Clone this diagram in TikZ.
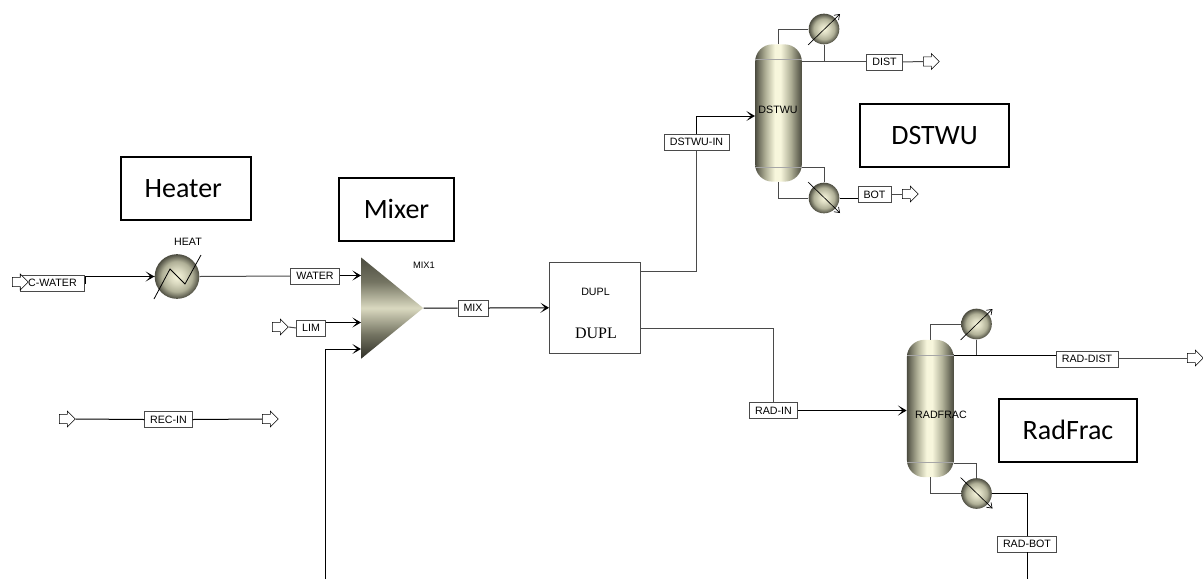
\documentclass[tikz,border=0pt]{standalone}
\usepackage{fontspec}
\setmainfont{Liberation Sans}
\newfontfamily\boxfont{Carlito}
\newfontfamily\duplfont{Liberation Serif}
\usepackage{xcolor}
\usepackage{tikz}
\usetikzlibrary{arrows.meta,positioning,shapes.geometric,shapes.arrows}
\definecolor{shadedark}{HTML}{2F2F27}
\definecolor{shadeedge}{HTML}{4C4C40}
\definecolor{shadelow}{HTML}{747462}
\definecolor{shademid}{HTML}{B0B097}
\definecolor{shadelight}{HTML}{F7F6DC}
\definecolor{shadecone}{HTML}{DAD9C0}
\definecolor{flowgray}{HTML}{4A4A4A}
\pgfdeclarehorizontalshading{towershade}{100bp}{
  color(0bp)=(shadeedge); color(25bp)=(shadeedge); color(29bp)=(shadelow); color(36bp)=(shademid);
  color(46bp)=(shadelight); color(52bp)=(shadelight); color(63bp)=(shademid); color(70bp)=(shadelow);
  color(75bp)=(shadeedge); color(100bp)=(shadeedge)}
\pgfdeclareverticalshading{coneshade}{100bp}{
  color(0bp)=(shadedark); color(25bp)=(shadedark); color(37bp)=(shadelow); color(50bp)=(shadecone);
  color(63bp)=(shadelow); color(75bp)=(shadeedge); color(100bp)=(shadeedge)}
\pgfdeclareradialshading{ballshade}{\pgfpointorigin}{
  color(0bp)=(shadelight); color(8bp)=(shadecone); color(17bp)=(shademid);
  color(25bp)=(shadeedge); color(50bp)=(shadeedge)}
\begin{document}
\begin{tikzpicture}[x=0.75pt, y=-0.75pt,
    stream/.style={draw=flowgray, fill=white, minimum height=12pt, inner xsep=4.2pt, inner ysep=0pt, font=\fontsize{8}{9}\selectfont},
    tag/.style={inner sep=0pt, font=\fontsize{8}{9}\selectfont},
    titlebox/.style={draw=black, line width=1.5pt, minimum height=47.25pt, font=\boxfont\fontsize{21}{24}\selectfont},
    tower/.style={shading=towershade, rounded corners=13pt, minimum width=35pt, minimum height=103pt, inner sep=0pt},
    ball/.style={circle, inner sep=0pt, minimum size=23pt, shading=ballshade},
    hollow/.style={single arrow, draw=black, fill=white, anchor=tail, inner sep=3.2pt, minimum height=12pt, single arrow head extend=2.6pt},
    flow/.style={draw=black, line width=0.75pt},
    feed/.style={flow, -{Stealth[length=6.5pt, width=7.5pt, inset=3.5pt]}},
    pipe/.style={draw=flowgray, line width=0.75pt},
    dial/.style={draw=black, line width=0.5pt, -{Straight Barb[length=3.5pt, width=5pt]}}]
  \useasboundingbox (0,0) rectangle (1203,579);

  % titles
  \node (heater) [titlebox, minimum width=97.5pt] at (186,188.5) {Heater\hspace*{4pt}};
  \node (mixer) [titlebox, minimum width=86pt] at (396.5,209) {Mixer};
  \node (dstwutitle) [titlebox, minimum width=111.5pt] at (934.5,135.5) {DSTWU};
  \node (radfractitle) [titlebox, minimum width=103.5pt] at (1068,430) {RadFrac};

  % blocks
  \node (heat) [ball, minimum size=33.5pt] at (177,276.5) {};
  \node (mix) [isosceles triangle, isosceles triangle apex angle=78.4, minimum width=75.75pt, inner sep=0pt, anchor=left corner, shading=coneshade] at (361,257) {};
  \node (dupl) [draw=flowgray, line width=0.75pt, minimum width=68.5pt, minimum height=68.5pt, inner sep=0pt] at (595.25,307.75) {};
  \node (dstwu) [tower] at (778.5,113) {};
  \node (radfrac) [tower] at (930.25,408.5) {};
  \draw[black!35, line width=0.4pt] (755,59) -- (802,59) (755,167) -- (802,167);
  \draw[black!35, line width=0.4pt] (907,355.5) -- (953.5,355.5) (907,462) -- (953.5,462);
  \node (cond1) [ball] at (824,29) {};
  \node (reb1) [ball] at (824,198) {};
  \node (cond2) [ball] at (976.5,324) {};
  \node (reb2) [ball] at (976.5,493.5) {};

  % ports
  \coordinate (mixin1) at (361,275.5);
  \coordinate (mixin2) at (361,322.5);
  \coordinate (mixin3) at (361,349);
  \coordinate (recback) at (325,579);
  \coordinate (duplout1) at (641,271);
  \coordinate (duplout2) at (641,328);
  \coordinate (dstwufeed) at (755,116);
  \coordinate (dstwutop) at (802,61);
  \coordinate (dstwubot) at (802,167);
  \coordinate (radtop) at (953.5,355.5);
  \coordinate (radbottom) at (953.5,463);
  \coordinate (radbotend) at (1027,579);

  % stream tags
  \node (cwater) [stream, minimum width=48pt] at (52.5,283) {C-WATER};
  \node (water) [stream] at (315,276) {WATER};
  \node (lim) [stream] at (311,328) {LIM};
  \node (recin) [stream] at (168.5,419.5) {REC-IN};
  \node (mixs) [stream] at (473,308) {MIX};
  \node (dstwuin) [stream] at (696.5,142) {DSTWU-IN};
  \node (radin) [stream] at (773.5,410.5) {RAD-IN};
  \node (dist) [stream] at (884.5,62) {DIST};
  \node (bot) [stream] at (874.5,194.5) {BOT};
  \node (raddist) [stream] at (1087,359) {RAD-DIST};
  \node (radbot) [stream] at (1027,544) {RAD-BOT};

  % open ends
  \node (cwaterend) [hollow] at (12,282) {};
  \node (limend) [hollow] at (272,327) {};
  \node (recend1) [hollow] at (59,419) {};
  \node (recend2) [hollow] at (262,419) {};
  \node (distend) [hollow] at (923,61.5) {};
  \node (botend) [hollow] at (902,194) {};
  \node (raddistend) [hollow] at (1187,358) {};

  % connectors
  \draw[feed] (cwater.east) -- ++(1,0) |- (heat.west);
  \draw[pipe] (heat.east) -- (water.west);
  \draw[feed] (water.east |- mixin1) -- (mixin1);
  \draw[pipe] (limend.tip) -- (lim.west);
  \draw[feed] (lim.east |- mixin2) -- (mixin2);
  \draw[feed] (recback) |- (mixin3);
  \draw[flow] (recend1.tip) -- (recin.west);
  \draw[flow] (recin.east) -- (recend2.tail);
  \draw[flow] (mix.apex) -- (mixs.west);
  \draw[feed] (mixs.east) -- (dupl.west);
  \draw[pipe] (duplout1) -| (dstwuin.south);
  \draw[feed] (dstwuin.north) |- (dstwufeed);
  \draw[pipe] (duplout2) -| (radin.north);
  \draw[feed] (radin.east) -- (radfrac.west |- radin.east);
  \draw[pipe] (dstwu.north) |- (cond1.west);
  \draw[pipe] (cond1.south) -- (cond1.south |- dstwutop);
  \draw[pipe] (dstwutop) -- (dist.west |- dstwutop);
  \draw[pipe] (dist.east) -- (distend.tail);
  \draw[pipe] (dstwu.south) |- (reb1.west);
  \draw[pipe] (dstwubot) -| (reb1.north);
  \draw[flow] (reb1.east) -- (bot.west |- reb1.east);
  \draw[pipe] (bot.east |- botend.tail) -- (botend.tail);
  \draw[pipe] (radfrac.north) |- (cond2.west);
  \draw[pipe] (cond2.south) -- (cond2.south |- radtop);
  \draw[flow] (radtop) -- (raddist.west |- radtop);
  \draw[pipe] (raddist.east |- raddistend.tail) -- (raddistend.tail);
  \draw[pipe] (radfrac.south) |- (reb2.west);
  \draw[pipe] (radbottom) -| (reb2.north);
  \draw[flow] (reb2.east) -| (radbot.north);
  \draw[flow] (radbot.south) -- (radbotend);

  % exchanger marks
  \draw[black, line width=0.6pt] (154,299) -- (170,269) -- (185,284) -- (201,255);
  \draw[dial] ([shift={(-16,16)}]cond1.center) -- ([shift={(16,-15)}]cond1.center);
  \draw[dial] ([shift={(-16,-16)}]reb1.center) -- ([shift={(16,15)}]reb1.center);
  \draw[dial] ([shift={(-16,16)}]cond2.center) -- ([shift={(16,-15)}]cond2.center);
  \draw[dial] ([shift={(-16,-16)}]reb2.center) -- ([shift={(16,15)}]reb2.center);

  % block names
  \node (heatname) [tag] at (188,242) {HEAT};
  \node (mixname) [tag, font=\fontsize{7}{9}\selectfont] at (424,265) {MIX1};
  \node (duplname) [tag] at (595.5,292) {DUPL};
  \node (duplname2) [inner sep=0pt, font=\duplfont\fontsize{12}{14}\selectfont] at (596,333.5) {DUPL};
  \node (dstwuname) [tag] at (778,110) {DSTWU};
  \node (radfracname) [tag] at (941,415) {RADFRAC};
\end{tikzpicture}
\end{document}
